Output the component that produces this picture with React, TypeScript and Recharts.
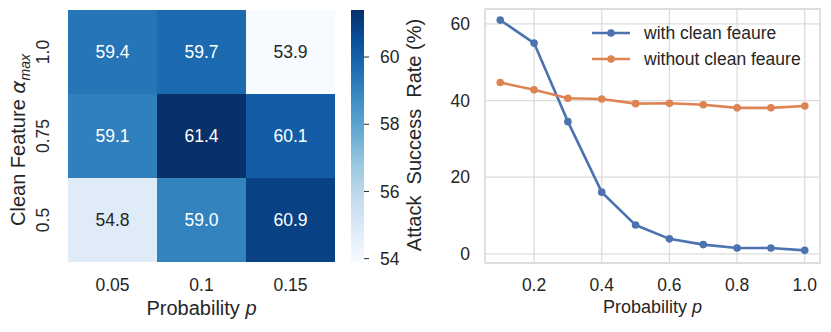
import React from 'react'
import {
  BarChart,
  Bar,
  Cell,
  LabelList,
  LineChart,
  Line,
  XAxis,
  YAxis,
  CartesianGrid,
  ReferenceArea,
  Legend,
  Label,
} from 'recharts'

// heatmap: attack success rate (%) by probability p (columns) and alpha_max (rows)
const probLabels = ['0.05', '0.1', '0.15']
const alphaLabels = ['0.5', '0.75', '1.0']
const asrAlpha050 = [54.8, 59.0, 60.9]
const asrAlpha075 = [59.1, 61.4, 60.1]
const asrAlpha100 = [59.4, 59.7, 53.9]
const cbarTicks = [54, 56, 58, 60]

// line chart
const probs = [0.1, 0.2, 0.3, 0.4, 0.5, 0.6, 0.7, 0.8, 0.9, 1.0]
const withClean = [61.0, 55.0, 34.5, 16.1, 7.5, 3.9, 2.4, 1.5, 1.5, 0.9]
const withoutClean = [44.7, 42.8, 40.6, 40.4, 39.2, 39.3, 38.9, 38.1, 38.1, 38.6]
const lineXTicks = [0.2, 0.4, 0.6, 0.8, 1.0]
const lineYTicks = [0, 20, 40, 60]

const INK = '#262626'
const GRID = '#dcdcdc'
const BLUE = '#4c72b0'
const ORANGE = '#dd8452'
const FONT = '"Liberation Sans", Arial, sans-serif'

// matplotlib "Blues"
const BLUES = [
  [247, 251, 255],
  [222, 235, 247],
  [198, 219, 239],
  [158, 202, 225],
  [107, 174, 214],
  [66, 146, 198],
  [33, 113, 181],
  [8, 81, 156],
  [8, 48, 107],
]

const allAsr = [...asrAlpha050, ...asrAlpha075, ...asrAlpha100]
const vmin = Math.min(...allAsr)
const vmax = Math.max(...allAsr)

function blues(v: number) {
  const t = Math.max(0, Math.min(1, (v - vmin) / (vmax - vmin))) * (BLUES.length - 1)
  const i = Math.min(Math.floor(t), BLUES.length - 2)
  const f = t - i
  const c = BLUES[i].map((a, k) => Math.round(a + (BLUES[i + 1][k] - a) * f))
  return `rgb(${c[0]},${c[1]},${c[2]})`
}

const rows = [asrAlpha050, asrAlpha075, asrAlpha100]
const heatData = probLabels.map((p, i) => ({
  p,
  r0: 1,
  r1: 1,
  r2: 1,
  v0: asrAlpha050[i],
  v1: asrAlpha075[i],
  v2: asrAlpha100[i],
}))

const cbarData = [{ name: 'asr', range: [vmin, vmax] }]

const lineData = probs.map((p, i) => ({ p, withClean: withClean[i], withoutClean: withoutClean[i] }))

const AlphaTick = (props: any) => {
  const { x, y, payload } = props
  const tx = x - 19
  return (
    <text x={tx} y={y} transform={`rotate(-90 ${tx} ${y})`} textAnchor="middle" fontSize={17.5} fill={INK}>
      {alphaLabels[Math.floor(payload.value)]}
    </text>
  )
}

const probLabel = (dy: number, size: number) => (props: any) => {
  const vb = props.viewBox
  return (
    <text x={vb.x + vb.width / 2} y={vb.y + dy} textAnchor="middle" fontSize={size} fill={INK}>
      Probability <tspan fontStyle="italic">p</tspan>
    </text>
  )
}

const alphaAxisLabel = (props: any) => {
  const vb = props.viewBox
  const x = 25
  const y = vb.y + vb.height / 2 + 4
  return (
    <text x={x} y={y} transform={`rotate(-90 ${x} ${y})`} textAnchor="middle" fontSize={20} fill={INK}>
      Clean Feature <tspan fontStyle="italic" fontFamily="DejaVu Sans">α</tspan>
      <tspan fontStyle="italic" fontSize={14} dy={5}>max</tspan>
    </text>
  )
}

const cbarLabel = (props: any) => {
  const vb = props.viewBox
  const x = vb.x + 57
  const y = vb.y + vb.height / 2 - 1
  return (
    <text x={x} y={y} transform={`rotate(-90 ${x} ${y})`} textAnchor="middle" fontSize={20} fill={INK} style={{ whiteSpace: 'pre' }}>
      {'Attack  Success  Rate (%)'}
    </text>
  )
}

const cellLabel = (props: any) => {
  const { x, y, width, height, value } = props
  const v = Number(value)
  const t = (v - vmin) / (vmax - vmin)
  return (
    <text
      x={x + width / 2}
      y={y + height / 2}
      dy={6}
      textAnchor="middle"
      fontSize={17.5}
      fill={t > 0.4 ? '#ffffff' : INK}
    >
      {v.toFixed(1)}
    </text>
  )
}

const legendItems = [
  { name: 'with clean feaure', color: BLUE },
  { name: 'without clean feaure', color: ORANGE },
]

const renderLegend = () => (
  <div style={{ fontFamily: FONT, fontSize: 17.5, color: INK }}>
    {legendItems.map((item) => (
      <div key={item.name} style={{ display: 'flex', alignItems: 'center', height: 26 }}>
        <svg width={38} height={26} style={{ marginRight: 14 }}>
          <line x1={0} y1={13} x2={38} y2={13} stroke={item.color} strokeWidth={2.6} />
          <circle cx={19} cy={13} r={3.8} fill={item.color} />
        </svg>
        <span style={{ whiteSpace: 'nowrap' }}>{item.name}</span>
      </div>
    ))}
  </div>
)

export default function App() {
  return (
    <div
      style={{
        position: 'absolute',
        left: 0,
        top: 0,
        width: 831,
        height: 332,
        background: '#fff',
        fontFamily: FONT,
      }}
    >
      <div style={{ position: 'absolute', left: 0, top: 0 }}>
        <BarChart
          width={340}
          height={332}
          data={heatData}
          margin={{ top: 10, right: 5, bottom: 0, left: 0 }}
          barCategoryGap={0}
          barGap={0}
        >
          <XAxis
            dataKey="p"
            type="category"
            height={70}
            interval={0}
            tickSize={0}
            tickMargin={17}
            axisLine={false}
            tickLine={false}
            tick={{ fontSize: 17.5, fill: INK }}
          >
            <Label content={probLabel(53, 20)} />
          </XAxis>
          <YAxis
            type="number"
            domain={[0, 3]}
            ticks={[0.5, 1.5, 2.5]}
            width={68}
            tickSize={0}
            tickMargin={0}
            axisLine={false}
            tickLine={false}
            tick={AlphaTick}
          >
            <Label content={alphaAxisLabel} />
          </YAxis>
          {rows.map((_, r) => (
            <Bar key={r} dataKey={`r${r}`} stackId="h" isAnimationActive={false}>
              {heatData.map((d: any, i) => (
                <Cell key={i} fill={blues(d[`v${r}`])} />
              ))}
              <LabelList dataKey={`v${r}`} content={cellLabel} />
            </Bar>
          ))}
        </BarChart>
      </div>

      <div style={{ position: 'absolute', left: 340, top: 0 }}>
        <BarChart
          width={100}
          height={332}
          data={cbarData}
          margin={{ top: 10, right: 0, bottom: 70, left: 11 }}
          barCategoryGap={0}
        >
          <defs>
            <linearGradient id="bluesGrad" x1="0" y1="1" x2="0" y2="0">
              {BLUES.map((c, i) => (
                <stop key={i} offset={i / (BLUES.length - 1)} stopColor={`rgb(${c[0]},${c[1]},${c[2]})`} />
              ))}
            </linearGradient>
          </defs>
          <XAxis hide dataKey="name" type="category" />
          <YAxis
            orientation="right"
            type="number"
            domain={[vmin, vmax]}
            ticks={cbarTicks}
            allowDataOverflow
            width={76}
            tickSize={5}
            tickMargin={11}
            axisLine={false}
            tickLine={{ stroke: INK, strokeWidth: 1 }}
            tick={{ fontSize: 17.5, fill: INK }}
          >
            <Label content={cbarLabel} />
          </YAxis>
          <Bar dataKey="range" fill="url(#bluesGrad)" isAnimationActive={false} />
        </BarChart>
      </div>

      <div style={{ position: 'absolute', left: 430, top: 0 }}>
        <LineChart width={401} height={332} data={lineData} margin={{ top: 9, right: 11, bottom: 0, left: 0 }}>
          <ReferenceArea
            x1={0.055}
            x2={1.045}
            y1={-2.4}
            y2={63.9}
            fill="none"
            stroke={GRID}
            strokeWidth={1.3}
            ifOverflow="visible"
          />
          <CartesianGrid stroke={GRID} strokeWidth={1.3} />
          <XAxis
            dataKey="p"
            type="number"
            domain={[0.055, 1.045]}
            ticks={lineXTicks}
            allowDataOverflow
            height={69}
            tickSize={0}
            tickMargin={16}
            axisLine={false}
            tickLine={false}
            tickFormatter={(v: number) => v.toFixed(1)}
            tick={{ fontSize: 17.5, fill: INK }}
          >
            <Label content={probLabel(50, 18)} />
          </XAxis>
          <YAxis
            type="number"
            domain={[-2.4, 63.9]}
            ticks={lineYTicks}
            allowDataOverflow
            width={55}
            tickSize={0}
            tickMargin={15}
            axisLine={false}
            tickLine={false}
            tick={{ fontSize: 17.5, fill: INK }}
          />
          <Legend
            layout="vertical"
            align="center"
            verticalAlign="middle"
            content={renderLegend}
            wrapperStyle={{ top: 20, left: 162, width: 230, margin: 0, padding: 0 }}
          />
          <Line
            dataKey="withClean"
            name="with clean feaure"
            stroke={BLUE}
            strokeWidth={2.6}
            dot={{ r: 3.8, fill: BLUE, stroke: BLUE, strokeWidth: 0 }}
            isAnimationActive={false}
          />
          <Line
            dataKey="withoutClean"
            name="without clean feaure"
            stroke={ORANGE}
            strokeWidth={2.6}
            dot={{ r: 3.8, fill: ORANGE, stroke: ORANGE, strokeWidth: 0 }}
            isAnimationActive={false}
          />
        </LineChart>
      </div>
    </div>
  )
}
